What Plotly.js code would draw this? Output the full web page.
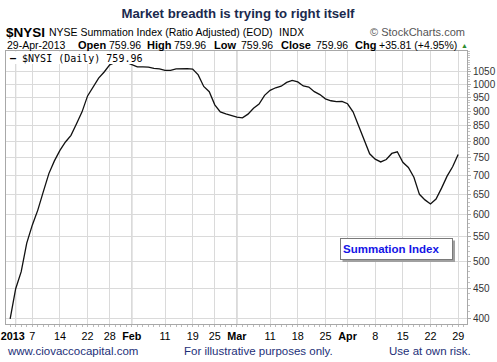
<!DOCTYPE html>
<html><head><meta charset="utf-8">
<script src="https://cdn.plot.ly/plotly-3.0.1.min.js"></script>
<style>html,body{margin:0;padding:0;background:#fff}#chart{width:497px;height:362px}</style>
</head><body><div id="chart"></div>
<script>
const dates = ['2012-12-31','2013-01-02','2013-01-03','2013-01-04','2013-01-07','2013-01-08','2013-01-09','2013-01-10','2013-01-11','2013-01-14','2013-01-15','2013-01-16','2013-01-17','2013-01-18','2013-01-22','2013-01-23','2013-01-24','2013-01-25','2013-01-28','2013-01-29','2013-01-30','2013-01-31','2013-02-01','2013-02-04','2013-02-05','2013-02-06','2013-02-07','2013-02-08','2013-02-11','2013-02-12','2013-02-13','2013-02-14','2013-02-15','2013-02-19','2013-02-20','2013-02-21','2013-02-22','2013-02-25','2013-02-26','2013-02-27','2013-02-28','2013-03-01','2013-03-04','2013-03-05','2013-03-06','2013-03-07','2013-03-08','2013-03-11','2013-03-12','2013-03-13','2013-03-14','2013-03-15','2013-03-18','2013-03-19','2013-03-20','2013-03-21','2013-03-22','2013-03-25','2013-03-26','2013-03-27','2013-03-28','2013-04-01','2013-04-02','2013-04-03','2013-04-04','2013-04-05','2013-04-08','2013-04-09','2013-04-10','2013-04-11','2013-04-12','2013-04-15','2013-04-16','2013-04-17','2013-04-18','2013-04-19','2013-04-22','2013-04-23','2013-04-24','2013-04-25','2013-04-26','2013-04-29'];
const nysi = [399,449,480,537,576,611,657,705,741,772,798,819,857,898,956,992,1025,1050,1080,1090,1094,1090,1082,1071,1071,1070,1065,1063,1057,1057,1063,1064,1064,1062,1038,992,972,923,898,891,885,880,877,890,911,926,958,977,987,993,1008,1016,1010,994,990,972,961,945,938,935,936,927,898,851,806,762,746,738,745,763,768,737,722,695,650,636,626,638,666,698,724.15,759.96];
const tickDates = ['2013-01-02','2013-01-07','2013-01-14','2013-01-22','2013-01-28','2013-02-01','2013-02-11','2013-02-19','2013-02-25','2013-03-01','2013-03-11','2013-03-18','2013-03-25','2013-04-01','2013-04-08','2013-04-15','2013-04-22','2013-04-29'];
const tickLabels = ['<b>2013</b>\u00a0\u00a0','7','14','22','28','<b>Feb</b>','11','19','25','<b>Mar</b>','11','18','25','<b>Apr</b>','8','15','22','29'];
const monthStarts = ['2013-01-02','2013-02-01','2013-03-01','2013-04-01'];
const yTicks = [400,450,500,550,600,650,700,750,800,850,900,950,1000,1050];
const yTickLabels = ['400','450','500','550','600','650','700','750','800','850','900','950','1000','1050'];

const W=497,H=362,L=6,R=30,T=51,B=38;
const pw=W-L-R, ph=H-T-B;
const px=x=>(x-L)/pw, py=y=>(H-B-y)/ph;

const xIdx = dates.map((d,i)=>i);
const last = nysi[nysi.length-1], prev = nysi[nysi.length-2];
const chg = last-prev, pct = chg/prev*100;
const f2 = v=>v.toFixed(2);

const trace = {x:xIdx, y:nysi, type:'scatter', mode:'lines', line:{color:'#111',width:1.3}, hoverinfo:'skip', showlegend:false};

const AR = 'Liberation Sans, Arial, sans-serif';
const ann = [];
function txt(text,x,y,size,color,anchor,family){
  ann.push({text:text,xref:'paper',yref:'paper',x:px(x),y:py(y),xanchor:anchor||'left',yanchor:'middle',showarrow:false,font:{family:family||AR,size:size,color:color||'#000'}});
}
// header row 1
txt('<b>$NYSI</b>',4,32,13.5,'#000');
txt('NYSE Summation Index (Ratio Adjusted) (EOD)',47,32,10.5,'#000');
txt('INDX',277,32,10,'#000','left','DejaVu Sans, sans-serif');
txt('© StockCharts.com',467,32,11,'#555','right');
// header row 2
const row2 = [['29-Apr-2013',5,false],['Open',76,true],[f2(last),107,false],['High',145,true],[f2(last),172,false],['Low',212,true],[f2(last),239,false],['Close',279,true],[f2(last),314,false],['Chg',353,true],['+'+f2(chg)+' (+'+f2(pct)+'%)',377,false]];
row2.forEach(r=>txt(r[2]?'<b>'+r[0]+'</b>':r[0],r[1],45,r[2]?11:10.5,'#000'));
txt('▲',459,45,7,'#2e8b2e');
// footer
const fc='#1d2f78';
txt('www.ciovaccocapital.com',5,351,11.5,fc);
txt('For illustrative purposes only.',182,351,11.5,fc);
txt('Use at own risk.',473,351,11.5,fc,'right');
// legend
txt('<b>—</b> $NYSI (Daily) '+f2(last),8,58.5,10,'#000','left','DejaVu Sans Mono, monospace');
// summation index box
ann.push({text:'<b>Summation Index</b>',xref:'paper',yref:'paper',x:px(340),y:py(238),xanchor:'left',yanchor:'top',showarrow:false,
  font:{family:AR,size:11.5,color:'#1414e6'},bgcolor:'#fff',bordercolor:'#7a7a7a',borderwidth:1,borderpad:2,width:107,height:16,align:'left'});

const shapes = [];
monthStarts.forEach(d=>{const i=dates.indexOf(d);shapes.push({type:'line',xref:'x',yref:'paper',x0:i,x1:i,y0:0,y1:1,line:{color:'#b3b3b3',width:1},layer:'below'});});
shapes.push({type:'rect',xref:'paper',yref:'paper',x0:px(6.5),x1:px(139),y0:py(51.5),y1:py(64),fillcolor:'#fff',line:{width:0},layer:'above'});
shapes.push({type:'rect',xref:'paper',yref:'paper',x0:px(342.5),x1:px(455),y0:py(240.5),y1:py(262),fillcolor:'#a0a0a0',line:{width:0},layer:'above'});

const minorY = [];
for(let v=400; v<=1140; v+=10) minorY.push(v);

const layout = {
  width:W,height:H,margin:{l:L,r:R,t:T,b:B},paper_bgcolor:'#fff',plot_bgcolor:'#fff',
  title:{text:'<b>Market breadth is trying to right itself</b>',font:{family:AR,size:13.2,color:'#1b2a4e'},x:238/W,xanchor:'center',xref:'container',y:1-13/H,yanchor:'middle',yref:'container'},
  xaxis:{type:'linear',range:[-0.75,82.6],tickmode:'array',tickvals:tickDates.map(d=>dates.indexOf(d)),ticktext:tickLabels,tickangle:0,
    showgrid:true,gridcolor:'#dadada',gridwidth:1,showline:true,mirror:true,linecolor:'#a8a8a8',zeroline:false,
    ticks:'outside',ticklen:2,tickcolor:'#bbb',tickfont:{family:AR,size:10.8,color:'#000'},
    minor:{tickmode:'linear',tick0:0,dtick:1,ticks:'outside',ticklen:2,tickcolor:'#bbb',showgrid:false}},
  yaxis:{type:'log',side:'right',range:[Math.log10(391),Math.log10(1140)],tickmode:'array',tickvals:yTicks,ticktext:yTickLabels,
    showgrid:true,gridcolor:'#dadada',gridwidth:1,showline:true,mirror:true,linecolor:'#a8a8a8',zeroline:false,
    ticks:'outside',ticklen:3,tickcolor:'#aaa',tickfont:{family:AR,size:10,color:'#333'},
    minor:{tickmode:'array',tickvals:minorY,ticks:'outside',ticklen:2,tickcolor:'#c4c4c4',showgrid:false}},
  annotations:ann,shapes:shapes,showlegend:false
};
Plotly.newPlot('chart',[trace],layout,{displayModeBar:false,staticPlot:true});
</script></body></html>
